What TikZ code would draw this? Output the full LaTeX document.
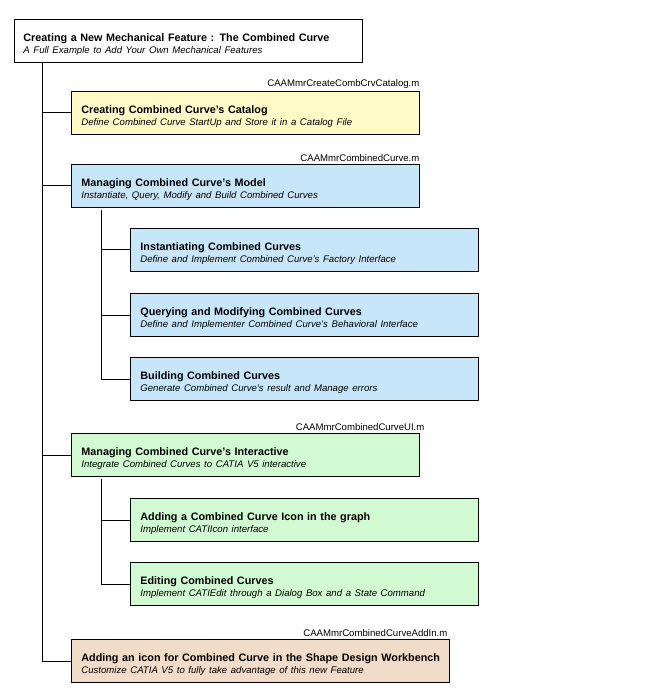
\documentclass[tikz,border=0pt]{standalone}
\usepackage{fontspec}
\setmainfont{Liberation Sans}
\usetikzlibrary{positioning,calc}

\definecolor{catyellow}{RGB}{255,250,200}
\definecolor{catblue}{RGB}{200,230,250}
\definecolor{catgreen}{RGB}{210,250,210}
\definecolor{cattan}{RGB}{240,220,200}

\newcommand{\steptext}[2]{\rule{0pt}{15pt}{\bfseries #1}\\{\itshape\fontsize{9.6}{12.7}\selectfont #2}}

\begin{document}
\begin{tikzpicture}[x=1pt,y=-1pt,line width=0.8pt,
    stepbox/.style={draw,anchor=north west,minimum height=43pt,inner xsep=10pt,inner ysep=0pt,
        align=left,text width=328pt,font=\fontsize{10.8}{12.7}\selectfont},
    filename/.style={anchor=south east,inner sep=0pt,font=\fontsize{9.6}{11}\selectfont}]
    \useasboundingbox (0,0) rectangle (661,700);

    % top of the tree
    \node[stepbox,fill=white,inner xsep=9pt,text width=330pt] (top) at (14,19)
        {\steptext{Creating a New Mechanical Feature : The Combined Curve}{A Full Example to Add Your Own Mechanical Features}};

    % first level
    \node[stepbox,fill=catyellow] (catalog) at (71,91)
        {\steptext{Creating Combined Curve's Catalog}{Define Combined Curve StartUp and Store it in a Catalog File}};
    \node[stepbox,fill=catblue] (model) at (71,164)
        {\steptext{Managing Combined Curve's Model}{Instantiate, Query, Modify and Build Combined Curves}};
    \node[stepbox,fill=catgreen] (interactive) at (71,433)
        {\steptext{Managing Combined Curve's Interactive}{Integrate Combined Curves to CATIA V5 interactive}};
    \node[stepbox,fill=cattan,text width=358pt] (addin) at (71,639)
        {\steptext{\mbox{Adding an icon for Combined Curve in the Shape Design Workbench}}{Customize CATIA V5 to fully take advantage of this new Feature}};

    % second level
    \node[stepbox,fill=catblue] (instantiate) at (130,228)
        {\steptext{Instantiating Combined Curves}{Define and Implement Combined Curve's Factory Interface}};
    \node[stepbox,fill=catblue] (query) at (130,293)
        {\steptext{Querying and Modifying Combined Curves}{Define and Implementer Combined Curve's Behavioral Interface}};
    \node[stepbox,fill=catblue] (build) at (130,357)
        {\steptext{Building Combined Curves}{Generate Combined Curve's result and Manage errors}};
    \node[stepbox,fill=catgreen] (icon) at (130,498)
        {\steptext{Adding a Combined Curve Icon in the graph}{Implement CATIIcon interface}};
    \node[stepbox,fill=catgreen] (edit) at (130,562)
        {\steptext{Editing Combined Curves}{Implement CATIEdit through a Dialog Box and a State Command}};

    % module names
    \node[filename] (catalogfile) at ([yshift=2pt]catalog.north east) {CAAMmrCreateCombCrvCatalog.m};
    \node[filename] (modelfile) at ([yshift=2pt]model.north east) {CAAMmrCombinedCurve.m};
    \node[filename] (uifile) at ([xshift=5pt,yshift=2pt]interactive.north east) {CAAMmrCombinedCurveUI.m};
    \node[filename] (addinfile) at ([xshift=-2pt,yshift=2pt]addin.north east) {CAAMmrCombinedCurveAddIn.m};

    % trunks
    \coordinate (trunk) at ($(top.south west)+(28,0)$);
    \coordinate (modeltrunk) at ($(model.south west)+(30,2)$);
    \coordinate (uitrunk) at ($(interactive.south west)+(30,2)$);

    \draw (trunk) |- (addin.west);
    \draw (catalog.west) -- (catalog.west -| trunk);
    \draw (model.west) -- (model.west -| trunk);
    \draw (interactive.west) -- (interactive.west -| trunk);

    \draw (modeltrunk) |- (build.west);
    \draw (instantiate.west) -- (instantiate.west -| modeltrunk);
    \draw (query.west) -- (query.west -| modeltrunk);

    \draw (uitrunk) |- (edit.west);
    \draw (icon.west) -- (icon.west -| uitrunk);
\end{tikzpicture}
\end{document}
